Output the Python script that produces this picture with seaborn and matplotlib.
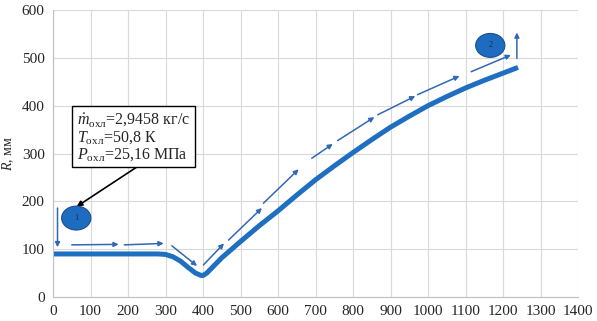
import matplotlib
matplotlib.use("Agg")
import matplotlib.pyplot as plt
from matplotlib.patches import Ellipse
import seaborn as sns
import pandas as pd

# профиль сопла: x, мм -> R, мм
x_mm = [0, 100, 200, 280, 300, 320, 340, 360, 380, 395, 400, 410, 430, 450, 500,
        550, 600, 650, 700, 750, 800, 850, 900, 950, 1000, 1050, 1100, 1150, 1200, 1240]
r_mm = [90, 90, 90, 90, 89, 84, 75, 62, 50, 45, 45, 50, 66, 82, 116,
        149, 180, 213, 245, 274, 302, 329, 355, 378, 400, 419, 437, 453, 468, 480]

# стрелки направления течения (начало -> конец)
arrows_from = [(12, 186), (50, 109), (190, 109), (317, 107), (401, 67), (468, 119), (561, 196),
               (690, 290), (759, 327), (866, 381), (972, 423), (1115, 471), (1237, 499)]
arrows_to = [(12, 104), (175, 110), (295, 112), (384, 65), (456, 112), (557, 186), (655, 267),
             (746, 320), (857, 376), (966, 420), (1084, 462), (1221, 506), (1237, 553)]

x_ticks = list(range(0, 1500, 100))
y_ticks = list(range(0, 700, 100))

sns.set_style("whitegrid")
plt.rcParams['font.family'] = ['Liberation Serif', 'DejaVu Serif']
plt.rcParams['mathtext.fontset'] = 'custom'
plt.rcParams['mathtext.rm'] = 'Liberation Serif'
plt.rcParams['mathtext.it'] = 'Liberation Serif:italic'

df = pd.DataFrame({"x": x_mm, "R": r_mm})

fig = plt.figure(figsize=(5.97, 3.21), dpi=100)
ax = fig.add_axes([0.0888, 0.0748, 0.8794, 0.894])

sns.lineplot(data=df, x="x", y="R", ax=ax, color="#1F6FC1", linewidth=3.6,
             solid_capstyle="butt")

for (x0, y0), (x1, y1) in zip(arrows_from, arrows_to):
    ax.annotate("", xy=(x1, y1), xytext=(x0, y0),
                arrowprops=dict(arrowstyle="-|>", color="#3068B5", lw=1.1,
                                mutation_scale=7, shrinkA=0, shrinkB=0))

for cx, cy, lab in [(62, 165, "1"), (1166, 526, "2")]:
    ax.add_patch(Ellipse((cx, cy), 78, 50, facecolor="#1E6CC0",
                         edgecolor="#1B4F8C", lw=0.8, zorder=4))
    ax.text(cx, cy, lab, ha="center", va="center", fontsize=6, color="#1a2a40", zorder=5)

ax.annotate("", xy=(63, 189), xytext=(224, 272),
            arrowprops=dict(arrowstyle="-|>", color="black", lw=1.2,
                            mutation_scale=8, shrinkA=0, shrinkB=0))
ax.text(64, 389,
        "$\\dot{m}_{\\mathrm{охл}}$=2,9458 кг/с\n"
        "$T_{\\mathrm{охл}}$=50,8 К\n"
        "$P_{\\mathrm{охл}}$=25,16 МПа",
        ha="left", va="top", fontsize=11.5, linespacing=1.02, zorder=6,
        bbox=dict(boxstyle="square,pad=0.3", facecolor="white", edgecolor="black", lw=1))

ax.set_xlim(0, 1400)
ax.set_ylim(0, 600)
ax.set_xticks(x_ticks)
ax.set_yticks(y_ticks)
ax.tick_params(axis="both", labelsize=11, length=0, pad=6)
ax.set_xlabel("")
ax.set_ylabel("$R$, мм", fontsize=10, labelpad=4)
ax.grid(color="#D9D9D9", lw=0.8)
for s in ["top", "right"]:
    ax.spines[s].set_visible(False)
for s in ["left", "bottom"]:
    ax.spines[s].set_color("#BFBFBF")
    ax.spines[s].set_linewidth(0.8)

fig.savefig("out.png", dpi=100)
